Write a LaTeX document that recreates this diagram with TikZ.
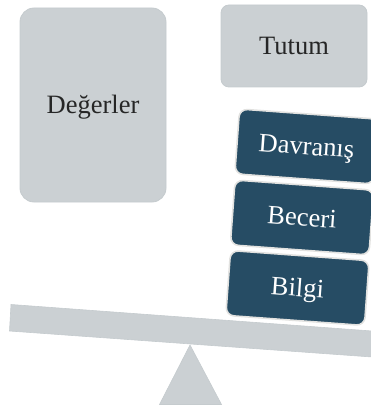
\documentclass[tikz,border=0pt]{standalone}
\usepackage{fontspec}
\setmainfont{Liberation Serif}
\definecolor{softgrey}{HTML}{CBD0D3}
\definecolor{softedge}{HTML}{C5CBCE}
\definecolor{deepblue}{HTML}{264C64}
\definecolor{paleedge}{HTML}{E2E2E0}
\tikzset{
  greybox/.style={draw=softedge,fill=softgrey,line width=0.8pt,text=black!85,font=\fontsize{26.5}{30}\selectfont,inner sep=0pt,text height=18pt,text depth=1.8pt},
  bluebox/.style={draw=paleedge,fill=deepblue,line width=1.6pt,text=white,font=\fontsize{26.5}{30}\selectfont,inner sep=0pt,rounded corners=8pt,minimum width=139pt,minimum height=65pt,rotate=-4.2,text height=18pt,text depth=1.6pt},
  support/.style={draw=softedge,fill=softgrey,line width=0.6pt}
}
\begin{document}
\begin{tikzpicture}[x=1pt,y=-1pt]
\useasboundingbox (0,0) rectangle (371,406);
\clip (0,0) rectangle (371,406);
\node[greybox,rounded corners=14pt,minimum width=146pt,minimum height=194pt] (degerler) at (93,105) {Değerler};
\node[greybox,rounded corners=8pt,minimum width=146pt,minimum height=82pt] (tutum) at (294,46) {Tutum};
\node[bluebox] (davranis) at (306.5,146.5) {Davranış};
\node[bluebox] (beceri) at (302,217.5) {Beceri};
\node[bluebox] (bilgi) at (297.5,288) {Bilgi};
\draw[support] (11,304.5) -- (372,331) -- (372,357) -- (9.5,331) -- cycle;
\draw[support] (190,345) -- (221.5,404.5) -- (159.5,404.5) -- cycle;
\end{tikzpicture}
\end{document}
